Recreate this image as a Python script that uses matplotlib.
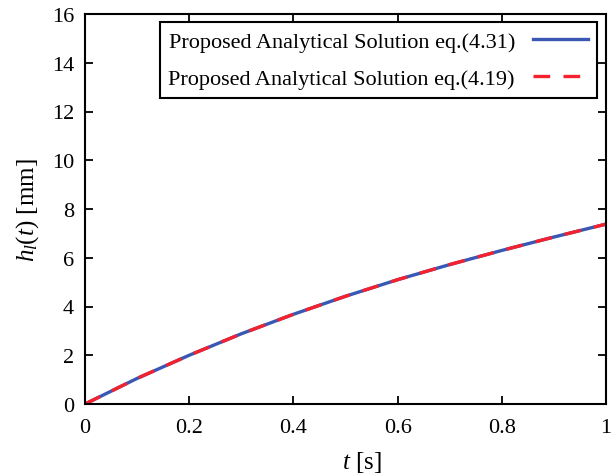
import matplotlib
matplotlib.use("Agg")
import matplotlib.pyplot as plt

plt.rcParams['font.family'] = ['Liberation Serif', 'DejaVu Serif']
plt.rcParams['mathtext.fontset'] = 'custom'
plt.rcParams['mathtext.rm'] = 'Liberation Serif'
plt.rcParams['mathtext.it'] = 'Liberation Serif:italic'

# time [s] and film height [mm]
t = [0.0, 0.1, 0.2, 0.3, 0.4, 0.5, 0.6, 0.7, 0.8, 0.9, 1.0]
h_eq431 = [0.0, 1.05, 2.00, 2.88, 3.68, 4.42, 5.10, 5.72, 6.30, 6.85, 7.38]
h_eq419 = [0.0, 1.05, 2.00, 2.88, 3.68, 4.42, 5.10, 5.72, 6.30, 6.85, 7.38]

labels = ["Proposed Analytical Solution eq.(4.31)",
          "Proposed Analytical Solution eq.(4.19)"]
xticks = [0, 0.2, 0.4, 0.6, 0.8, 1]
xticklabels = ["0", "0.2", "0.4", "0.6", "0.8", "1"]
yticks = [0, 2, 4, 6, 8, 10, 12, 14, 16]

fig = plt.figure(figsize=(6.13, 4.77), dpi=100)
ax = fig.add_axes([85 / 613, 1 - 405 / 477, 521 / 613, 390 / 477])

ax.plot(t, h_eq431, color='#3b57b4', lw=2.4, label=labels[0])
ax.plot(t, h_eq419, color='#f5222d', lw=2.4, dashes=(5, 4), label=labels[1])

ax.set_xlim(0, 1)
ax.set_ylim(0, 16)
ax.set_xticks(xticks)
ax.set_xticklabels(xticklabels)
ax.set_yticks(yticks)
ax.tick_params(direction='in', length=6, width=1.3, top=True, right=True,
               labelsize=16)
ax.tick_params(axis='x', pad=10)
ax.tick_params(axis='y', pad=8)
for s in ax.spines.values():
    s.set_linewidth(1.5)

ax.set_xlabel(r'$t$ [s]', fontsize=18, labelpad=4)
ax.xaxis.set_label_coords(0.532, -0.115)
ax.set_ylabel(r'$h_l(t)$ [mm]', fontsize=18, labelpad=8)

leg = ax.legend(loc='upper right', bbox_to_anchor=(0.983, 0.979),
                fontsize=16, markerfirst=False, handlelength=2.5,
                fancybox=False, framealpha=1, edgecolor='black',
                borderaxespad=0, labelspacing=0.75, handletextpad=0.8,
                borderpad=0.4)
leg.get_frame().set_linewidth(1.5)

fig.savefig('out.png', dpi=100)
